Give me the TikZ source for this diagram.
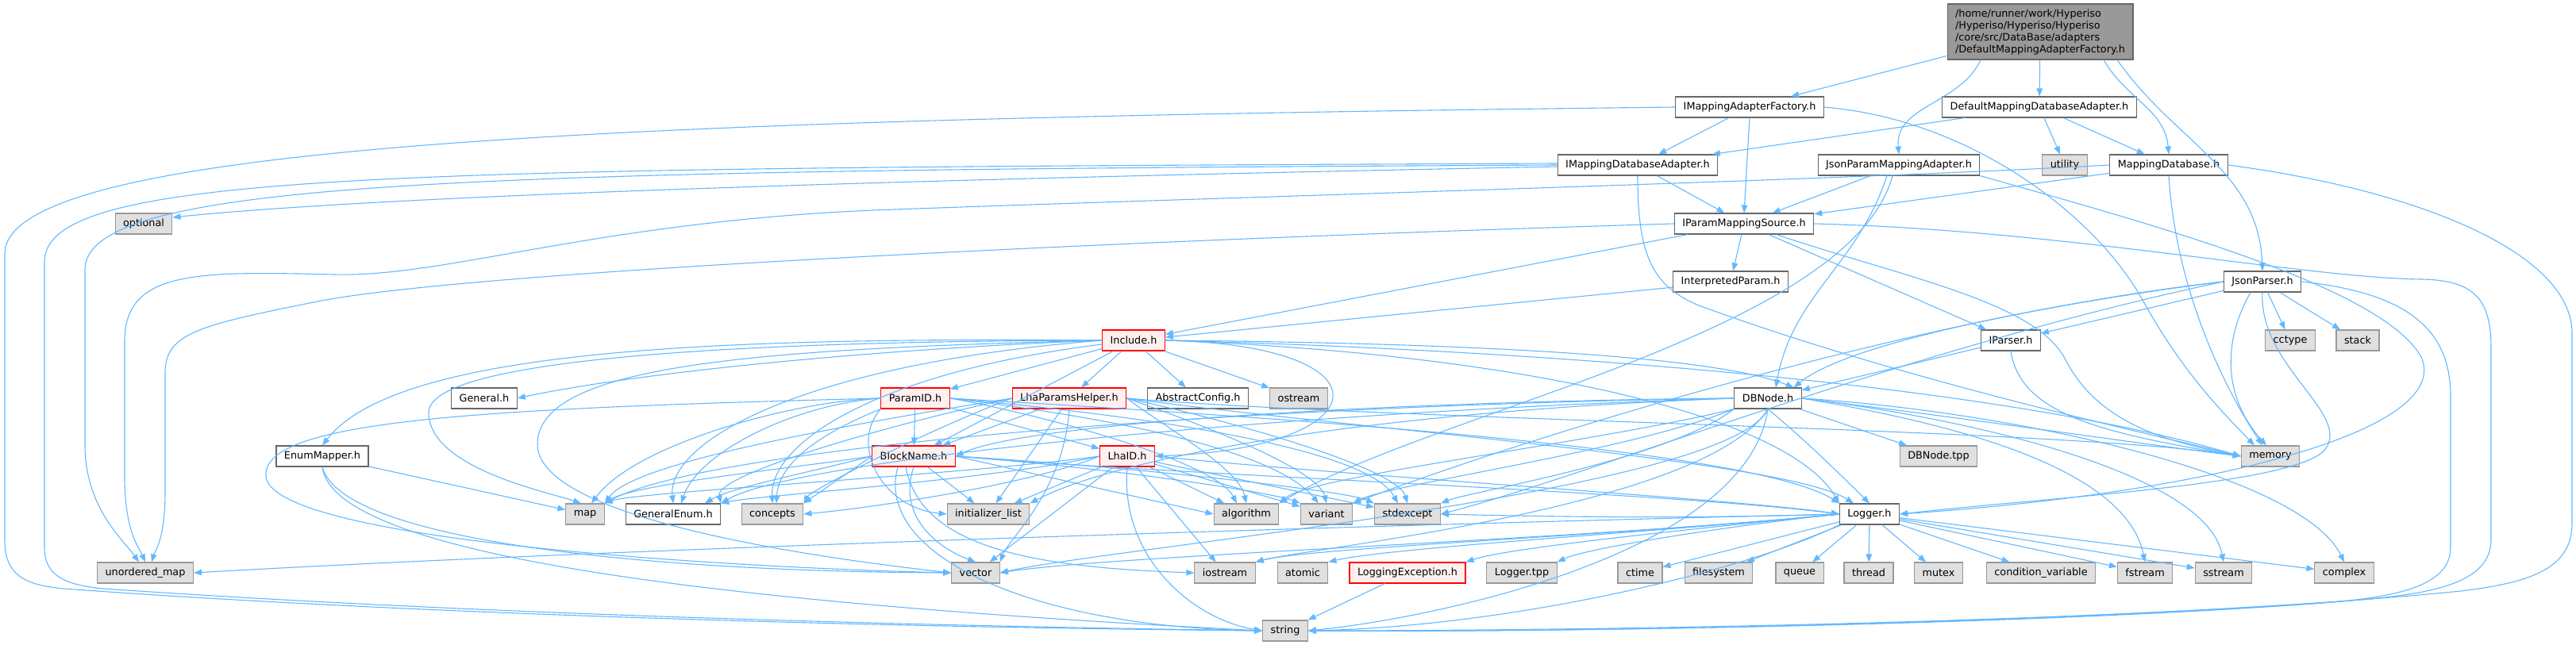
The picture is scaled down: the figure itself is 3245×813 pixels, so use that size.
\documentclass[tikz,border=0pt]{standalone}
\usepackage{fontspec}
\setmainfont{DejaVu Sans}
\usetikzlibrary{arrows.meta}
\definecolor{eblue}{HTML}{63B8FF}
\definecolor{bgray}{HTML}{666666}
\definecolor{ggray}{HTML}{999999}
\definecolor{gfill}{HTML}{E0E0E0}
\definecolor{mainfill}{HTML}{999999}
\definecolor{rborder}{HTML}{FF0000}
\definecolor{rfill}{HTML}{FFF0F0}
\newcommand{\nodefont}{\fontsize{12.8}{15}\selectfont}
\begin{document}
\begin{tikzpicture}[x=1pt,y=-1pt,
  edge/.style={draw=eblue,line width=1.1pt,-{Triangle[length=10pt,width=7.5pt]}},
  box/.style={line width=1.1pt,font=\nodefont,inner xsep=10pt,inner ysep=0pt,minimum height=26pt},
  wn/.style={box,draw=bgray,fill=white},
  gn/.style={box,draw=ggray,fill=gfill},
  rn/.style={box,draw=rborder,fill=rfill},
]
\useasboundingbox (0,0) rectangle (3245,813);

% ---------------- nodes
\node[box,draw=bgray,fill=mainfill,align=left,minimum height=70pt,inner ysep=4pt] (main) at (2570,40)
  {/home/runner/work/Hyperiso\\/Hyperiso/Hyperiso/Hyperiso\\/core/src/DataBase/adapters\\/DefaultMappingAdapterFactory.h};
\node[wn] (imaf) at (2204,135) {IMappingAdapterFactory.h};
\node[wn] (dmda) at (2569,135) {DefaultMappingDatabaseAdapter.h};
\node[wn] (imda) at (2063,208) {IMappingDatabaseAdapter.h};
\node[wn] (jpma) at (2392,208) {JsonParamMappingAdapter.h};
\node[gn] (utility) at (2601,208) {utility};
\node[wn] (mdb) at (2732,208) {MappingDatabase.h};
\node[gn] (optional) at (181,282) {optional};
\node[wn] (ipms) at (2197,282) {IParamMappingSource.h};
\node[wn] (ip) at (2180,355) {InterpretedParam.h};
\node[wn] (jp) at (2850,355) {JsonParser.h};
\node[rn] (inc) at (1428,429) {Include.h};
\node[wn] (ipar) at (2533,429) {IParser.h};
\node[gn] (cctype) at (2885,429) {cctype};
\node[gn] (stack) at (2970,429) {stack};
\node[wn] (general) at (610,502) {General.h};
\node[rn] (pid) at (1153,502) {ParamID.h};
\node[rn] (lph) at (1347,502) {LhaParamsHelper.h};
\node[wn] (ac) at (1509,502) {AbstractConfig.h};
\node[gn] (ostream) at (1636,502) {ostream};
\node[wn] (dbn) at (2227,502) {DBNode.h};
\node[wn] (em) at (406,575) {EnumMapper.h};
\node[rn] (bn) at (1151,575) {BlockName.h};
\node[rn] (lid) at (1420,575) {LhaID.h};
\node[gn] (dbtpp) at (2442,575) {DBNode.tpp};
\node[gn] (memory) at (2860,575) {memory};
\node[gn] (map) at (737,648) {map};
\node[wn] (ge) at (848,648) {GeneralEnum.h};
\node[gn] (concepts) at (973,648) {concepts};
\node[gn] (il) at (1245,648) {initializer\_list};
\node[gn] (algorithm) at (1570,648) {algorithm};
\node[gn] (variant) at (1671,648) {variant};
\node[gn] (stdexcept) at (1773,648) {stdexcept};
\node[wn] (logger) at (2355,648) {Logger.h};
\node[gn] (umap) at (183,722) {unordered\_map};
\node[gn] (vector) at (1229,722) {vector};
\node[gn] (iostream) at (1543,722) {iostream};
\node[gn] (atomic) at (1641,722) {atomic};
\node[rn] (le) at (1773,722) {LoggingException.h};
\node[gn] (ltpp) at (1917,722) {Logger.tpp};
\node[gn] (ctime) at (2066,722) {ctime};
\node[gn] (fs) at (2165,722) {filesystem};
\node[gn] (queue) at (2267,722) {queue};
\node[gn] (thread) at (2354,722) {thread};
\node[gn] (mutex) at (2442,722) {mutex};
\node[gn] (cv) at (2571,722) {condition\_variable};
\node[gn] (fstream) at (2702,722) {fstream};
\node[gn] (sstream) at (2801,722) {sstream};
\node[gn] (complex) at (2953,722) {complex};
\node[gn] (string) at (1619,795) {string};

% ---------------- main
\draw[edge] (main) -- (imaf);
\draw[edge] (main) -- (dmda);
\draw[edge] ([xshift=-75pt]main.south) to[out=-115,in=95] (jpma.north);
\draw[edge] ([xshift=80pt]main.south) to[out=-60,in=95] (mdb.north);
\draw[edge] ([xshift=97pt]main.south) to[out=-55,in=92] (jp.north);

% ---------------- IMappingAdapterFactory
\draw[edge] (imaf) -- (imda);
\draw[edge] (imaf.south) -- (ipms.north);
\draw[edge] (imaf.west) .. controls (800,150) and (6,180) .. (6,320) -- (6,680) .. controls (6,725) and (30,737) .. (80,742) .. controls (600,780) and (1250,792) .. (string.west);
\draw[edge] (imaf.east) .. controls (2480,150) and (2640,270) .. (2700,380) .. controls (2750,470) and (2800,520) .. ([xshift=-20pt]memory.north);

% ---------------- IMappingDatabaseAdapter
\draw[edge] (imda) -- (ipms);
\draw[edge] ([yshift=2pt]imda.west) .. controls (500,212) and (56,215) .. (56,330) -- (56,690) .. controls (56,725) and (80,737) .. (130,742) .. controls (650,778) and (1250,790) .. (string.west);
\draw[edge] (imda.west) .. controls (600,215) and (107,225) .. (107,340) -- (107,560) .. controls (107,640) and (155,680) .. ([xshift=-8pt]umap.north);
\draw[edge] ([yshift=-2pt]imda.west) .. controls (1200,225) and (500,245) .. ([yshift=8pt]optional.east);
\draw[edge] (imda.south) .. controls (2063,320) and (2080,360) .. (2140,385) .. controls (2400,480) and (2700,545) .. (memory.west);

% ---------------- DefaultMappingDatabaseAdapter
\draw[edge] (dmda) -- (imda);
\draw[edge] (dmda) -- (utility);
\draw[edge] (dmda) -- (mdb);

% ---------------- JsonParamMappingAdapter
\draw[edge] (jpma) -- (ipms);
\draw[edge] ([xshift=-15pt]jpma.south) to[out=-108,in=80] ([xshift=10pt]dbn.north);
\draw[edge] ([xshift=-8pt]jpma.south) .. controls (2330,420) and (1800,520) .. (algorithm.north east);
\draw[edge] (jpma.south east) .. controls (2700,280) and (3000,360) .. (3050,450) .. controls (3090,540) and (2800,620) .. (logger.east);

% ---------------- MappingDatabase
\draw[edge] (mdb) -- (ipms);
\draw[edge] (mdb.west) .. controls (2300,228) and (1500,250) .. (1100,265) .. controls (750,280) and (560,350) .. (420,346) .. controls (250,342) and (157,340) .. (157,430) -- (157,600) .. controls (157,670) and (175,690) .. (umap.north);
\draw[edge] (mdb.south) .. controls (2740,350) and (2790,470) .. ([xshift=-10pt]memory.north);
\draw[edge] (mdb.east) .. controls (3050,240) and (3240,320) .. (3240,420) -- (3240,660) .. controls (3240,720) and (3180,735) .. (3100,745) .. controls (2700,785) and (2000,795) .. (string.east);

% ---------------- IParamMappingSource
\draw[edge] (ipms) -- (inc);
\draw[edge] (ipms) -- (ip);
\draw[edge] (ipms) -- (ipar);
\draw[edge] (ipms) .. controls (2400,350) and (2560,380) .. (2600,450) .. controls (2640,530) and (2720,555) .. (memory.west);
\draw[edge] (ipms.east) .. controls (2600,290) and (2900,350) .. (3050,352) .. controls (3120,353) and (3138,380) .. (3138,440) -- (3138,680) .. controls (3138,740) and (3050,750) .. (2950,758) .. controls (2500,790) and (1900,797) .. (string.east);
\draw[edge] (ipms.west) .. controls (1500,300) and (600,340) .. (400,380) .. controls (250,410) and (208,420) .. (208,470) -- (208,620) .. controls (208,680) and (195,695) .. ([xshift=8pt]umap.north);

% ---------------- InterpretedParam, IParser
\draw[edge] (ip) -- (inc);
\draw[edge] (ipar) -- (dbn);
\draw[edge] (ipar.south) .. controls (2545,520) and (2640,545) .. (memory.west);

% ---------------- JsonParser
\draw[edge] (jp) -- (ipar);
\draw[edge] (jp) -- (cctype);
\draw[edge] (jp) -- (stack);
\draw[edge] (jp.west) .. controls (2600,380) and (2330,430) .. ([xshift=-10pt]dbn.north east);
\draw[edge] ([xshift=-15pt]jp.south) .. controls (2800,430) and (2800,500) .. ([xshift=-5pt]memory.north);
\draw[edge] (jp.south) .. controls (2845,460) and (2960,520) .. (2930,565) .. controls (2900,610) and (2600,625) .. (logger.east);
\draw[edge] (jp.east) .. controls (3040,370) and (3087,420) .. (3087,500) -- (3087,690) .. controls (3087,745) and (3000,755) .. (2900,762) .. controls (2500,790) and (1900,797) .. (string.east);
\draw[edge] (jp.west) .. controls (2400,400) and (1900,560) .. (variant.north east);
\draw[edge] (jp.west) .. controls (2400,440) and (2000,600) .. (stdexcept.east);

% ---------------- Include
\draw[edge] (inc.west) .. controls (1100,440) and (800,470) .. (general.east);
\draw[edge] (inc.west) .. controls (900,425) and (500,440) .. (em.north);
\draw[edge] (inc.west) .. controls (900,430) and (540,455) .. (540,520) .. controls (540,590) and (690,620) .. ([xshift=-5pt]map.north);
\draw[edge] (inc.west) .. controls (1000,460) and (840,560) .. (ge.north);
\draw[edge] (inc) .. controls (1100,470) and (970,560) .. (concepts.north);
\draw[edge] (inc.west) .. controls (950,440) and (677,460) .. (677,560) .. controls (677,650) and (1000,700) .. (vector.west);
\draw[edge] (inc) -- (pid);
\draw[edge] (inc) -- (lph);
\draw[edge] (inc) -- (ac);
\draw[edge] (inc) -- (ostream);
\draw[edge] (inc) -- (bn);
\draw[edge] (inc.east) .. controls (1760,435) and (1740,565) .. (lid.east);
\draw[edge] (inc.east) .. controls (1800,432) and (2150,445) .. ([xshift=-10pt]dbn.north east);
\draw[edge] (inc.east) .. controls (1900,440) and (2500,480) .. (memory.west);
\draw[edge] (inc.east) .. controls (1900,445) and (2250,520) .. (logger.north west);

% ---------------- ParamID
\draw[edge] (pid) -- (bn);
\draw[edge] (pid) -- (lid);
\draw[edge] (pid.west) .. controls (1000,505) and (800,560) .. ([xshift=8pt]map.north);
\draw[edge] (pid.west) .. controls (1000,510) and (880,570) .. ([xshift=10pt]ge.north);
\draw[edge] (pid.south west) .. controls (1000,560) and (980,600) .. ([xshift=5pt]concepts.north);
\draw[edge] (pid.south west) .. controls (1070,560) and (1110,640) .. (il.west);
\draw[edge] (pid.east) .. controls (1300,520) and (1530,580) .. ([xshift=-12pt]algorithm.north);
\draw[edge] (pid.east) .. controls (1350,520) and (1600,560) .. ([xshift=-10pt]variant.north);
\draw[edge] (pid.east) .. controls (1400,520) and (1720,560) .. ([xshift=-12pt]stdexcept.north);
\draw[edge] (pid.east) .. controls (1500,520) and (2200,560) .. (logger.north west);
\draw[edge] (pid.west) .. controls (600,515) and (330,530) .. (335,600) .. controls (340,680) and (900,715) .. (vector.west);

% ---------------- LhaParamsHelper
\draw[edge] (lph) -- (bn);
\draw[edge] (lph) -- (il);
\draw[edge] (lph.south) .. controls (1340,620) and (1270,680) .. (vector.north east);
\draw[edge] (lph.west) .. controls (1100,530) and (800,580) .. (map.north east);
\draw[edge] (lph.west) .. controls (1100,540) and (900,600) .. (ge.north east);
\draw[edge] (lph.west) .. controls (1150,550) and (1020,620) .. (concepts.north east);
\draw[edge] (lph.east) .. controls (1470,540) and (1560,590) .. (algorithm.north);
\draw[edge] (lph.east) .. controls (1500,530) and (1660,590) .. (variant.north);
\draw[edge] (lph.east) .. controls (1550,530) and (1760,590) .. (stdexcept.north);
\draw[edge] (lph.east) .. controls (1700,540) and (2250,580) .. ([xshift=-20pt]logger.north);
\draw[edge] (lph.east) .. controls (1750,530) and (2600,540) .. (memory.west);

% ---------------- BlockName
\draw[edge] (bn) -- (il);
\draw[edge] (bn.south) .. controls (1130,650) and (1180,690) .. (vector.north);
\draw[edge] ([xshift=-20pt]bn.south) .. controls (1100,700) and (1300,790) .. (string.west);
\draw[edge] ([xshift=-10pt]bn.south) .. controls (1160,690) and (1300,715) .. (iostream.west);
\draw[edge] (bn.west) .. controls (1000,590) and (800,610) .. (map.north east);
\draw[edge] (bn.west) .. controls (1000,600) and (920,615) .. ([xshift=40pt]ge.north);
\draw[edge] (bn.west) -- (concepts.north east);
\draw[edge] (bn.east) -- (algorithm.west);
\draw[edge] (bn.east) .. controls (1400,590) and (1600,620) .. (variant.north west);
\draw[edge] (bn.east) .. controls (1450,590) and (1700,620) .. (stdexcept.north west);
\draw[edge] (bn.east) .. controls (1500,600) and (2100,620) .. (logger.west);

% ---------------- LhaID
\draw[edge] (lid) -- (il);
\draw[edge] (lid) -- (vector);
\draw[edge] (lid.south) .. controls (1410,700) and (1500,780) .. (string.west);
\draw[edge] (lid) -- (iostream);
\draw[edge] (lid) -- (algorithm);
\draw[edge] (lid) -- (variant);
\draw[edge] (lid) -- (stdexcept);
\draw[edge] (lid.west) .. controls (1200,600) and (800,620) .. (map.north east);
\draw[edge] (lid.west) .. controls (1250,605) and (950,625) .. (ge.north east);
\draw[edge] (lid.west) .. controls (1300,610) and (1100,640) .. (concepts.east);
\draw[edge] (lid.east) .. controls (1700,600) and (2200,630) .. (logger.west);

% ---------------- DBNode
\draw[edge] (dbn) -- (dbtpp);
\draw[edge] (dbn.east) .. controls (2500,530) and (2700,560) .. (memory.west);
\draw[edge] (dbn.west) .. controls (1800,505) and (1300,530) .. (bn.east);
\draw[edge] (dbn.west) .. controls (1600,510) and (900,560) .. (map.north east);
\draw[edge] (dbn.west) .. controls (1600,520) and (1000,580) .. (ge.north east);
\draw[edge] (dbn.west) .. controls (1700,520) and (1400,580) .. (il.north east);
\draw[edge] (dbn.south west) .. controls (2000,560) and (1650,600) .. (algorithm.north east);
\draw[edge] (dbn.south west) .. controls (2050,570) and (1750,610) .. (variant.north east);
\draw[edge] (dbn.south west) .. controls (2100,580) and (1850,620) .. (stdexcept.north east);
\draw[edge] (dbn.south) .. controls (2180,620) and (1400,690) .. (vector.east);
\draw[edge] (dbn.south) .. controls (2150,640) and (1650,690) .. (iostream.north east);
\draw[edge] (dbn.south) .. controls (2280,560) and (2320,600) .. (logger.north);
\draw[edge] (dbn.east) .. controls (2500,540) and (2680,600) .. (fstream.north);
\draw[edge] (dbn.east) .. controls (2500,530) and (2780,600) .. (sstream.north);
\draw[edge] (dbn.east) .. controls (2550,520) and (2900,600) .. (complex.north);
\draw[edge] (dbn.south) .. controls (2200,700) and (1800,780) .. (string.east);

% ---------------- Logger
\draw[edge] (logger) -- (queue);
\draw[edge] (logger) -- (thread);
\draw[edge] (logger) -- (mutex);
\draw[edge] (logger) -- (cv);
\draw[edge] (logger) -- (fstream);
\draw[edge] (logger) -- (sstream);
\draw[edge] (logger) -- (complex);
\draw[edge] (logger) -- (fs);
\draw[edge] (logger) -- (ctime);
\draw[edge] (logger.west) .. controls (2200,660) and (2000,690) .. (ltpp.north east);
\draw[edge] (logger.west) .. controls (2150,665) and (1900,690) .. (le.north east);
\draw[edge] (logger.west) .. controls (2100,670) and (1750,690) .. (atomic.north east);
\draw[edge] (logger.west) .. controls (2050,675) and (1650,690) .. (iostream.north east);
\draw[edge] (logger.west) .. controls (2000,680) and (1400,700) .. (vector.east);
\draw[edge] (logger.west) .. controls (1800,660) and (800,690) .. (umap.east);
\draw[edge] (logger.west) .. controls (2100,655) and (1900,650) .. (stdexcept.east);
\draw[edge] (logger.south west) .. controls (2200,720) and (1900,790) .. (string.east);

% ---------------- EnumMapper, LoggingException
\draw[edge] (em) -- (map);
\draw[edge] (em.south) .. controls (420,700) and (900,760) .. (string.west);
\draw[edge] (em.south) .. controls (430,680) and (800,720) .. (vector.west);
\draw[edge] (le) -- (string);

\end{tikzpicture}
\end{document}
